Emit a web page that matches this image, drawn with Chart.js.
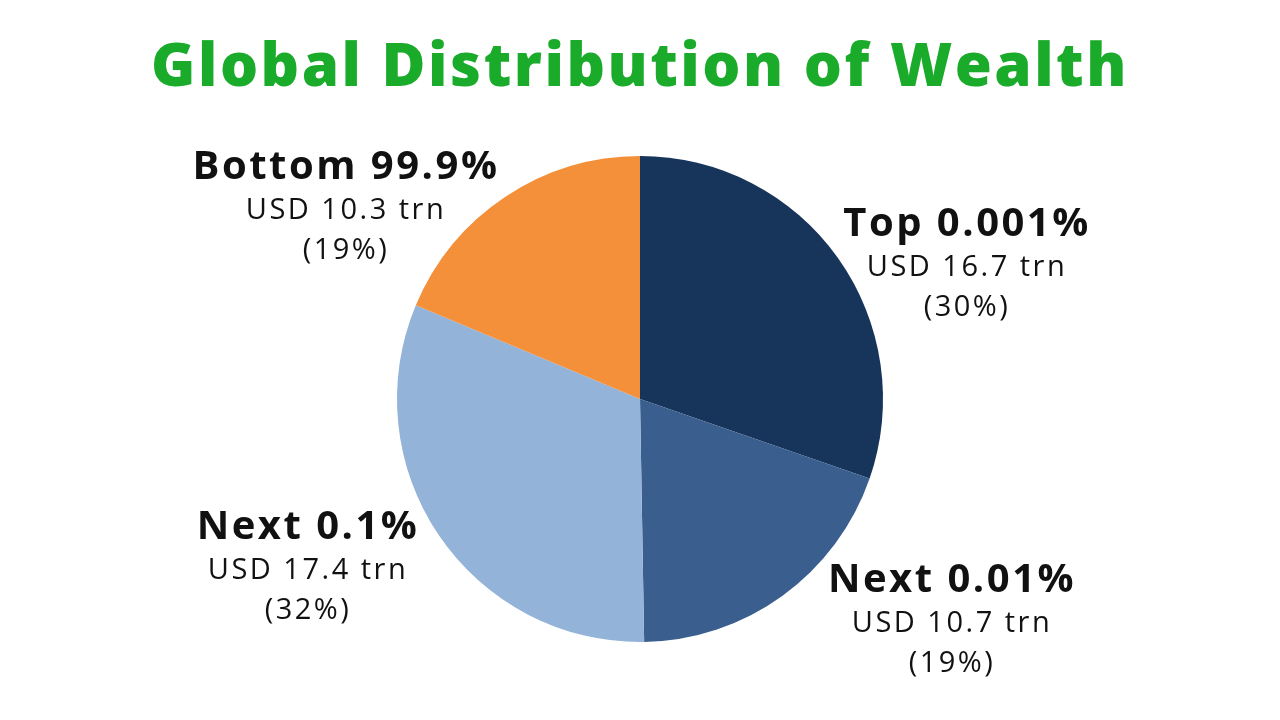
<!DOCTYPE html>
<html>
<head>
<meta charset="utf-8">
<script src="https://cdn.jsdelivr.net/npm/chart.js@4"></script>
<style>
  html, body { margin: 0; padding: 0; background: #fff; }
  #wrap { position: relative; width: 1280px; height: 720px; }
  h1 {
    position: absolute; top: 22px; left: 0; width: 1280px; margin: 0;
    text-align: center; font-family: "Open Sans", sans-serif; font-weight: 800;
    font-size: 60px; color: #1aab2b; letter-spacing: 2.5px;
  }
  canvas { position: absolute; top: 0; left: 0; }
</style>
</head>
<body>
<div id="wrap">
  <h1>Global Distribution of Wealth</h1>
  <canvas id="wealth-chart" width="1280" height="720"></canvas>
</div>
<script>
// Datos del gráfico
var groups = ['Top 0.001%', 'Next 0.01%', 'Next 0.1%', 'Bottom 99.9%'];
var wealthTrn = [16.7, 10.7, 17.4, 10.3];
var shareLabels = ['(30%)', '(19%)', '(32%)', '(19%)'];
var sliceColors = ['#17345a', '#3a5f8f', '#94b3d9', '#f39039'];

// Posiciones de las etiquetas (solo maquetación)
var labelPos = [[967, 225], [952, 581], [308, 528], [346, 168]];

var labelPlugin = {
  id: 'sliceLabels',
  afterDraw: function(chart) {
    var ctx = chart.ctx;
    ctx.save();
    ctx.textAlign = 'center';
    ctx.textBaseline = 'middle';
    ctx.fillStyle = '#111';
    groups.forEach(function(name, i) {
      var x = labelPos[i][0], y = labelPos[i][1];
      ctx.font = 'bold 40px "Open Sans", sans-serif';
      ctx.letterSpacing = '2.5px';
      ctx.fillText(name, x, y);
      ctx.font = '29px "Open Sans", sans-serif';
      ctx.letterSpacing = '2.5px';
      ctx.fillText('USD ' + wealthTrn[i] + ' trn', x, y + 43);
      ctx.fillText(shareLabels[i], x, y + 83);
    });
    ctx.restore();
  }
};

new Chart(document.getElementById('wealth-chart'), {
  type: 'pie',
  data: {
    labels: groups,
    datasets: [{
      data: wealthTrn,
      backgroundColor: sliceColors,
      borderWidth: 0
    }]
  },
  options: {
    responsive: false,
    animation: false,
    layout: { padding: { top: 156, bottom: 78 } },
    plugins: {
      legend: { display: false },
      tooltip: { enabled: false }
    }
  },
  plugins: [labelPlugin]
});
</script>
</body>
</html>
